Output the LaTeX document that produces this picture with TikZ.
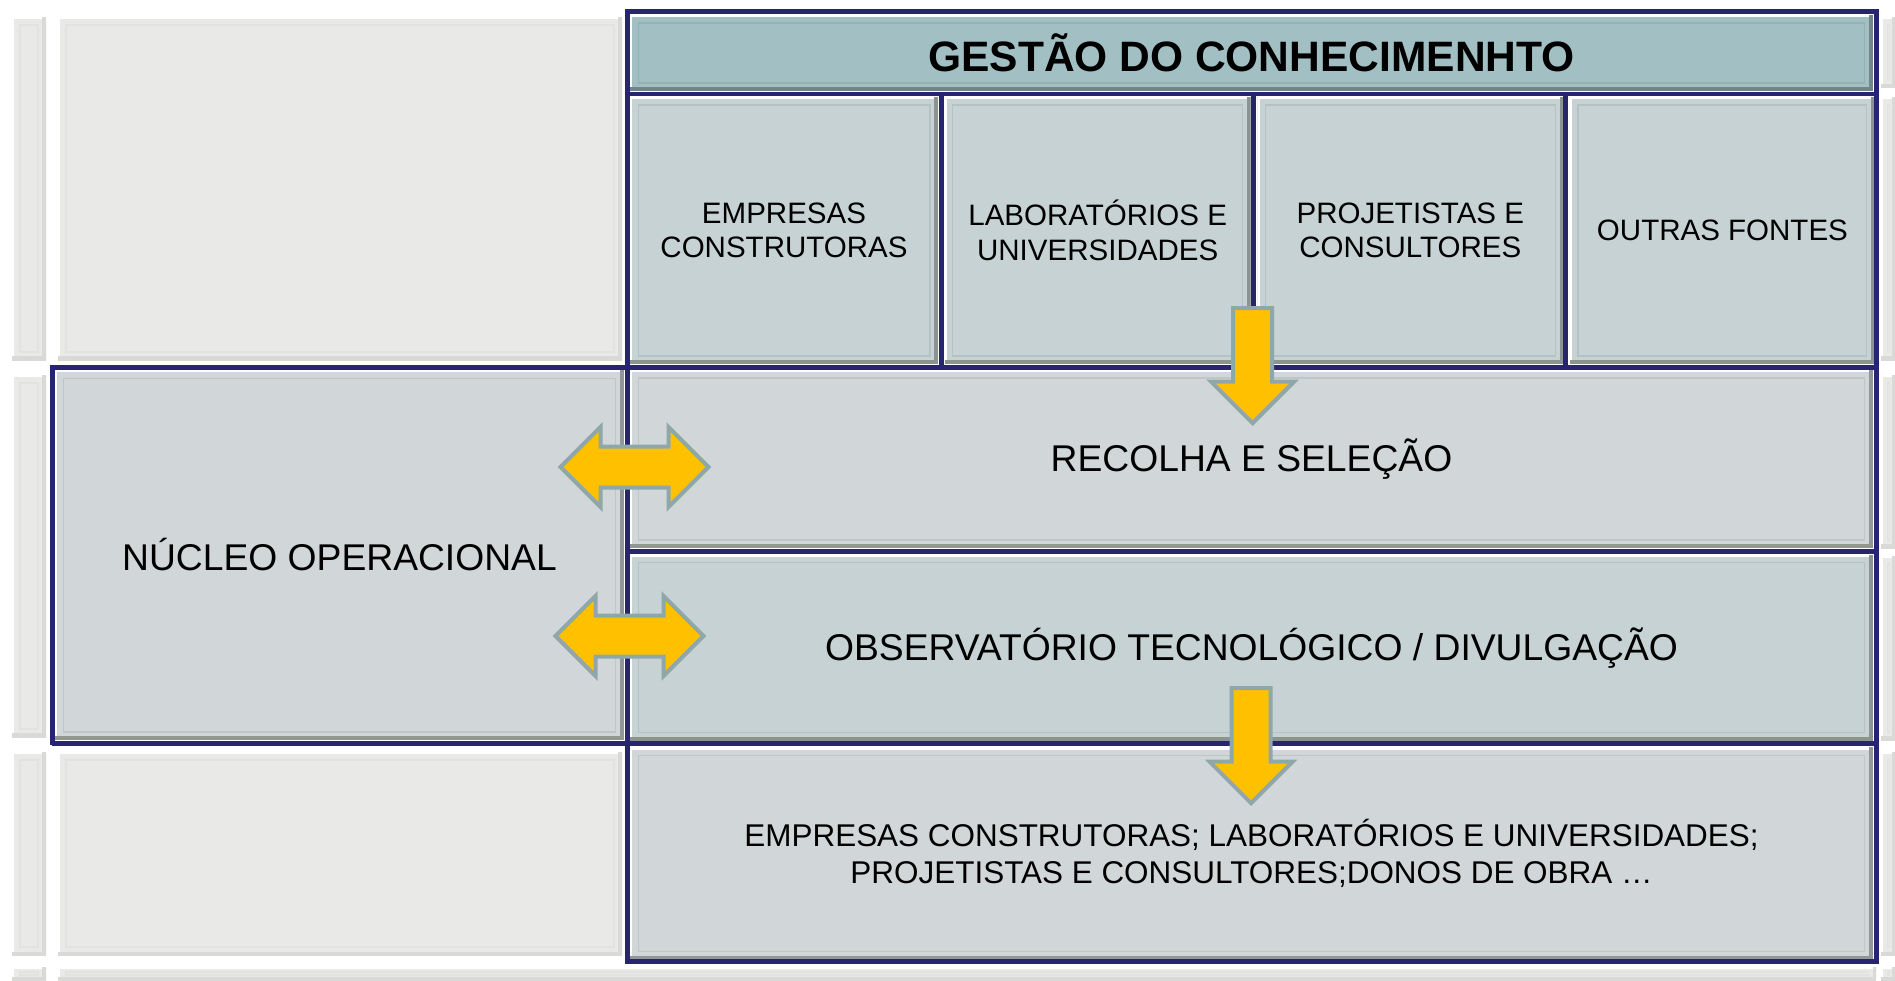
\documentclass[tikz,border=0pt]{standalone}
\usepackage{fontspec}
\setmainfont{Liberation Sans}
\usetikzlibrary{shapes.arrows, positioning}
\definecolor{navy1}{RGB}{39,37,112}
\definecolor{teal1}{RGB}{162,192,195}
\definecolor{grey1}{RGB}{198,210,211}
\definecolor{grey2}{RGB}{209,215,216}
\definecolor{bg1}{RGB}{233,233,232}
\definecolor{gold1}{RGB}{255,192,0}
\definecolor{slate1}{RGB}{143,167,169}

\begin{document}
\begin{tikzpicture}[x=0.02cm, y=-0.02cm,
    bevel/.style 2 args={path picture={
        \draw[white, line width=2.5pt] (path picture bounding box.south west) -- (path picture bounding box.north west) -- (path picture bounding box.north east);
        \draw[#2, line width=4pt] (path picture bounding box.south west) -- (path picture bounding box.south east) -- (path picture bounding box.north east);
        \draw[#1, line width=0.6pt] ([shift={(0.16cm,-0.16cm)}]path picture bounding box.north west) rectangle ([shift={(-0.16cm,0.16cm)}]path picture bounding box.south east);
    }},
    cell/.style={rectangle, fill=#1, bevel={#1!92!black}{#1!70!black}, inner sep=0pt, align=center,
        font=\fontsize{16.8pt}{19.6pt}\selectfont},
    bgcell/.style={fill=bg1, bevel={bg1!97!black}{bg1!93!black}},
    frame/.style={draw=navy1, line width=0.1cm},
    bigtext/.style={font=\fontsize{21.2pt}{25pt}\selectfont},
    downarrow/.style={single arrow, shape border rotate=270, fill=gold1, draw=slate1, line width=0.08cm,
        inner xsep=0.35cm, inner ysep=0pt, single arrow head extend=0.44cm, minimum height=2.3cm, anchor=tip},
    twoarrow/.style={double arrow, fill=gold1, draw=slate1, line width=0.08cm,
        inner xsep=0pt, inner ysep=0.37cm, double arrow head extend=0.39cm, minimum height=2.96cm}
]
    \useasboundingbox (0,0) rectangle (1895,980);
    \fill[white] (0,0) rectangle (1895,980);

    % background table cells
    \foreach \xa/\ya/\xb/\yb in {12/17/46/360, 12/375/46/737, 12/752/46/955, 12/967/46/980,
        58/17/622/360, 58/752/622/955, 58/967/1876/980,
        1881/17/1895/88, 1881/97/1895/360, 1881/375/1895/548, 1881/556/1895/740,
        1881/752/1895/955, 1881/967/1895/980}
        \path[bgcell] (\xa,\ya) rectangle (\xb,\yb);

    \node[cell=teal1, name=title, minimum width=24.86cm, minimum height=1.52cm,
        font=\fontsize{24.2pt}{28pt}\selectfont\bfseries] at(1251.5,53) {GESTÃO DO CONHECIMENHTO};

    \node[cell=grey1, name=empresas, minimum width=6.16cm, minimum height=5.34cm] at(784,230.5) {EMPRESAS\\CONSTRUTORAS};
    \node[cell=grey1, name=labs, minimum width=6.12cm, minimum height=5.34cm, right=0.12cm of empresas] {LABORATÓRIOS E\\UNIVERSIDADES};
    \node[cell=grey1, name=projetistas, minimum width=6.12cm, minimum height=5.34cm, right=0.12cm of labs] {PROJETISTAS E\\CONSULTORES};
    \node[cell=grey1, name=outras, minimum width=6.1cm, minimum height=5.34cm, right=0.12cm of projetistas] {OUTRAS FONTES};

    \node[cell=grey2, bigtext, name=recolha, minimum width=24.86cm, minimum height=3.56cm] at(1251.5,459) {RECOLHA E SELEÇÃO};
    \node[cell=grey1, bigtext, name=observatorio, minimum width=24.86cm, minimum height=3.72cm, below=0.12cm of recolha] {OBSERVATÓRIO TECNOLÓGICO / DIVULGAÇÃO};
    \node[cell=grey2, name=destino, minimum width=24.86cm, minimum height=4.24cm, below=0.12cm of observatorio,
        font=\fontsize{17.9pt}{20.6pt}\selectfont] {EMPRESAS CONSTRUTORAS; LABORATÓRIOS E UNIVERSIDADES;\\PROJETISTAS E CONSULTORES;DONOS DE OBRA …};

    \node[cell=grey2, bigtext, name=nucleo, minimum width=11.38cm, minimum height=7.4cm] at(339.5,555) {NÚCLEO OPERACIONAL};

    % navy frame
    \draw[frame] (627,12) rectangle (1876,961);
    \draw[frame] (627,94) -- (1876,94);
    \foreach \x in {941,1253,1565}
        \draw[frame] (\x,94) -- (\x,367);
    \draw[frame] (52,367) -- (1876,367);
    \draw[frame] (627,551) -- (1876,551);
    \draw[frame] (52,743) -- (1876,743);
    \draw[frame] (52,365) -- (52,745);

    % arrows
    \node[downarrow, name=setaA] at(1252.5,426) {};
    \node[downarrow, name=setaB] at(1251,806) {};
    \node[twoarrow, name=troca1] at(634.5,467) {};
    \node[twoarrow, name=troca2] at(629.5,636) {};
\end{tikzpicture}
\end{document}
